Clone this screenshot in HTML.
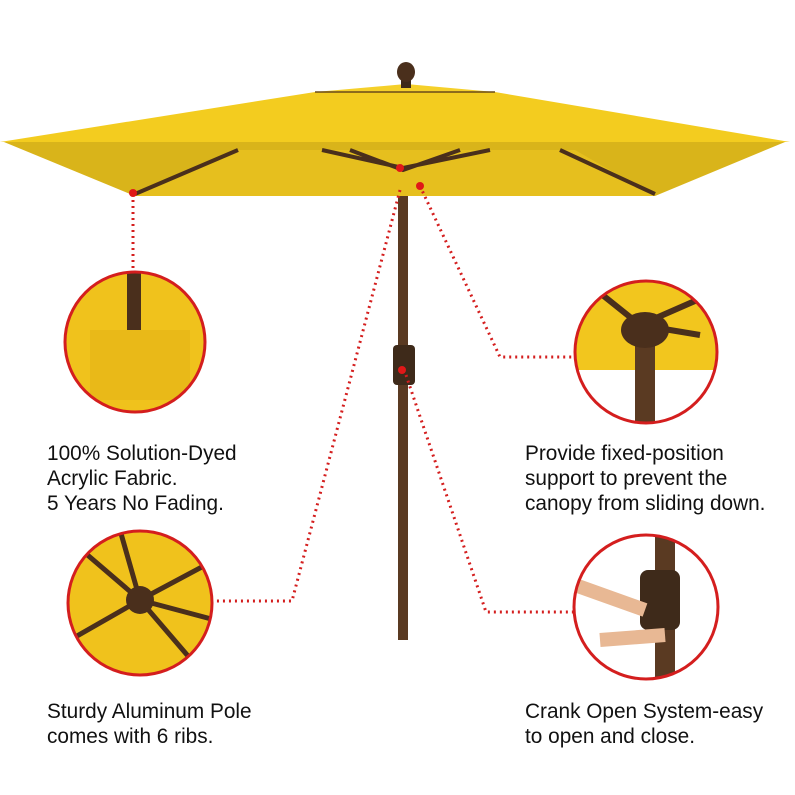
<!DOCTYPE html>
<html><head><meta charset="utf-8"><style>
body{margin:0;background:#fff;}
svg{display:block}
text{font-family:"Liberation Sans",sans-serif;font-size:20.8px;fill:#111}
</style></head><body>
<svg width="795" height="795" viewBox="0 0 795 795">
<defs>
<clipPath id="c1"><circle cx="135" cy="342" r="70"/></clipPath>
<clipPath id="c2"><circle cx="646" cy="352" r="71"/></clipPath>
<clipPath id="c3"><circle cx="140" cy="603" r="72"/></clipPath>
<clipPath id="c4"><circle cx="646" cy="607" r="72"/></clipPath>
</defs>
<rect x="398" y="160" width="10" height="480" fill="#5a3a22"/>
<rect x="393" y="345" width="22" height="40" rx="4" fill="#3e2a1a"/>
<polygon points="4,142 785,142 655,196 135,196" fill="#d9b41a"/>
<polygon points="135,196 235,150 575,150 655,196" fill="#e6bf1e"/>
<path d="M135,194 L238,150 M655,194 L560,150 M322,150 L403,168 L490,150 M350,150 L403,170 L460,150" stroke="#4a2f1c" stroke-width="4" fill="none"/>
<polygon points="0,142 315,92 495,92 790,142" fill="#f3cc1f"/>
<polygon points="315,92 406,84 495,92" fill="#f5d02a"/>
<line x1="315" y1="92" x2="495" y2="92" stroke="#6a4b1a" stroke-width="1.5"/>
<rect x="401" y="78" width="10" height="10" fill="#3e2a1a"/>
<ellipse cx="406" cy="72" rx="9" ry="10" fill="#4a2f1c"/>
<g stroke="#d41e1e" stroke-width="3" stroke-dasharray="2 4" fill="none">
<path d="M133,194 V272"/>
<path d="M420,186 L500,357 H575"/>
<path d="M400,190 L292,601 H215"/>
<path d="M406,375 L486,612 H574"/>
</g>
<g fill="#e01818"><circle cx="133" cy="193" r="4"/><circle cx="400" cy="168" r="4"/><circle cx="420" cy="186" r="4"/><circle cx="402" cy="370" r="4"/></g>
<g clip-path="url(#c1)"><rect x="60" y="270" width="150" height="150" fill="#f0c21c"/>
<rect x="127" y="270" width="14" height="60" fill="#4a2f1c"/>
<rect x="90" y="330" width="100" height="70" fill="#e9b918"/></g>
<circle cx="135" cy="342" r="70" fill="none" stroke="#d41e1e" stroke-width="3"/>
<g clip-path="url(#c2)"><rect x="570" y="280" width="160" height="150" fill="#fff"/>
<rect x="570" y="280" width="160" height="90" fill="#f2c61e"/>
<path d="M590,285 L640,325 L720,290 M640,325 L700,335" stroke="#4a2f1c" stroke-width="6" fill="none"/>
<rect x="635" y="320" width="20" height="110" fill="#5a3a22"/>
<ellipse cx="645" cy="330" rx="24" ry="18" fill="#4a2f1c"/></g>
<circle cx="646" cy="352" r="71" fill="none" stroke="#d41e1e" stroke-width="3"/>
<g clip-path="url(#c3)"><rect x="65" y="530" width="150" height="150" fill="#f0c21c"/>
<path d="M140,600 L70,540 M140,600 L215,560 M140,600 L70,640 M140,600 L200,670 M140,600 L120,530 M140,600 L215,620" stroke="#4a2f1c" stroke-width="5"/>
<circle cx="140" cy="600" r="14" fill="#4a2f1c"/></g>
<circle cx="140" cy="603" r="72" fill="none" stroke="#d41e1e" stroke-width="3"/>
<g clip-path="url(#c4)"><rect x="570" y="530" width="150" height="150" fill="#fff"/>
<rect x="655" y="530" width="20" height="150" fill="#5a3a22"/>
<rect x="640" y="570" width="40" height="60" rx="8" fill="#3e2a1a"/>
<path d="M575,585 L645,610" stroke="#e8b894" stroke-width="14"/>
<path d="M600,640 L665,635" stroke="#e8b894" stroke-width="14"/></g>
<circle cx="646" cy="607" r="72" fill="none" stroke="#d41e1e" stroke-width="3"/>
<text x="47" y="460">100% Solution-Dyed</text>
<text x="47" y="485">Acrylic Fabric.</text>
<text x="47" y="510">5 Years No Fading.</text>
<text x="525" y="460">Provide fixed-position</text>
<text x="525" y="485">support to prevent the</text>
<text x="525" y="510">canopy from sliding down.</text>
<text x="47" y="718">Sturdy Aluminum Pole</text>
<text x="47" y="743">comes with 6 ribs.</text>
<text x="525" y="718">Crank Open System-easy</text>
<text x="525" y="743">to open and close.</text>
</svg>
</body></html>
